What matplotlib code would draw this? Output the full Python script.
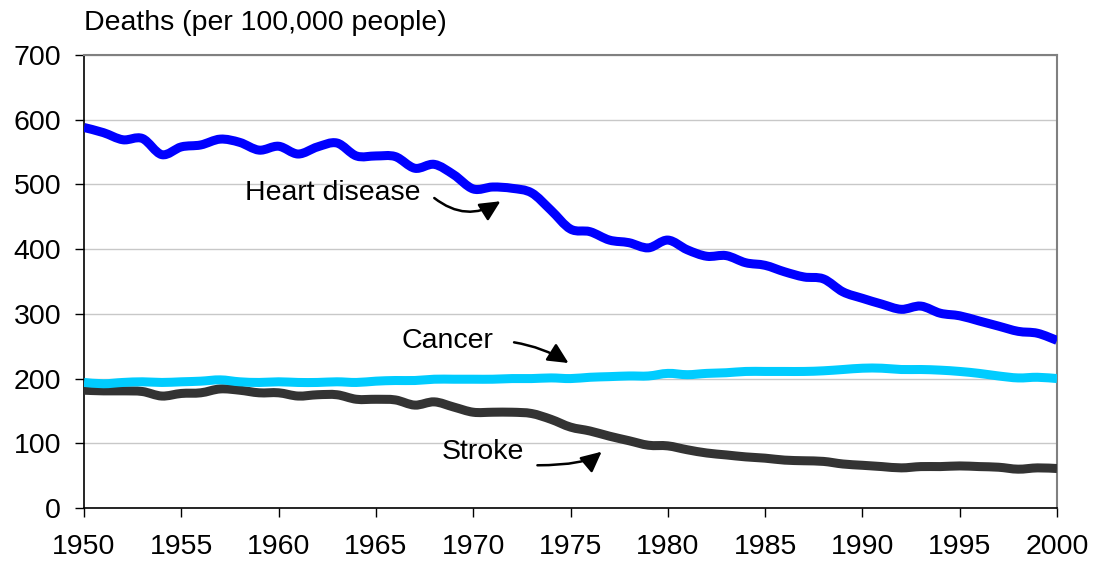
import matplotlib
matplotlib.use("Agg")
import matplotlib.pyplot as plt
from matplotlib.path import Path
from matplotlib.patches import PathPatch
import numpy as np

years = list(range(1950, 2001))
heart = [588, 580, 569, 571, 546, 558, 561, 570, 565, 553,
         559, 547, 558, 564, 544, 544, 543, 525, 531, 515,
         493, 496, 494, 487, 460, 431, 427, 414, 410, 402,
         414, 399, 389, 390, 379, 375, 365, 357, 354, 334,
         324, 315, 307, 312, 301, 297, 289, 281, 273, 270,
         259]
cancer = [194, 192, 194, 195, 194, 195, 196, 198, 195, 194,
          195, 194, 194, 195, 194, 196, 197, 197, 199, 199,
          199, 199, 200, 200, 201, 200, 202, 203, 204, 204,
          208, 206, 208, 209, 211, 211, 211, 211, 212, 214,
          216, 216, 214, 214, 213, 211, 208, 204, 201, 202,
          200]
stroke = [182, 181, 181, 180, 173, 177, 178, 184, 182, 178,
          178, 173, 175, 175, 168, 168, 167, 159, 164, 156,
          148, 148, 148, 146, 137, 125, 119, 111, 104, 97,
          96, 90, 85, 82, 79, 77, 74, 73, 72, 68,
          66, 64, 62, 64, 64, 65, 64, 63, 60, 62,
          61]
series_labels = ["Heart disease", "Cancer", "Stroke"]
y_label = "Deaths (per 100,000 people)"
x_ticks = list(range(1950, 2001, 5))
y_ticks = list(range(0, 701, 100))

plt.rcParams['font.family'] = ['Liberation Sans', 'DejaVu Sans']


def smooth_path(xs, ys):
    """Bezier path passing through every data point (Excel-style smoothed line)."""
    p = np.column_stack([xs, ys]).astype(float)
    n = len(p)
    verts = [p[0]]
    codes = [Path.MOVETO]
    for i in range(n - 1):
        p0 = p[i - 1] if i > 0 else p[i]
        p1 = p[i]
        p2 = p[i + 1]
        p3 = p[i + 2] if i + 2 < n else p[i + 1]
        c1 = p1 + (p2 - p0) / 6.0
        c2 = p2 - (p3 - p1) / 6.0
        verts += [c1, c2, p2]
        codes += [Path.CURVE4] * 3
    return Path(verts, codes)


fig = plt.figure(figsize=(10.96, 5.67), dpi=100)
ax = fig.add_axes([84/1096, 59/567, (1057-84)/1096, (508-55)/567])

ax.set_xlim(1950, 2000)
ax.set_ylim(0, 700)
ax.set_xticks(x_ticks)
ax.set_yticks(y_ticks)
ax.grid(axis='y', color='#c8c8c8', linewidth=1.0)
ax.set_axisbelow(True)

lw = 6.5
for vals, col, z in [(stroke, '#333333', 3), (cancer, '#00CCFF', 4), (heart, '#0000FF', 5)]:
    patch = PathPatch(smooth_path(years, vals), facecolor='none', edgecolor=col, lw=lw,
                      joinstyle='round', capstyle='butt', zorder=z, clip_on=True)
    ax.add_patch(patch)

for s in ['top', 'right']:
    ax.spines[s].set_color('#808080')
    ax.spines[s].set_linewidth(1.5)
for s in ['left', 'bottom']:
    ax.spines[s].set_color('black')
    ax.spines[s].set_linewidth(1.2)

ax.tick_params(axis='both', direction='out', length=6.5, width=1, labelsize=20.5, colors='black')
ax.tick_params(axis='x', pad=12)
ax.tick_params(axis='y', pad=10)

fig.text(84/1096, 1 - 23/567, y_label, ha='left', va='center', fontsize=20.5)

fs = 20.5
head = '-|>,head_length=0.62,head_width=0.3'
ax.text(1962.8, 487, series_labels[0], ha='center', va='center', fontsize=fs)
ax.annotate('', xy=(1971.4, 474), xytext=(1968.0, 479),
            arrowprops=dict(arrowstyle=head, mutation_scale=20, color='black', lw=1.8,
                            connectionstyle='arc3,rad=0.35', shrinkA=0, shrinkB=0))
ax.text(1968.7, 258, series_labels[1], ha='center', va='center', fontsize=fs)
ax.annotate('', xy=(1974.9, 224), xytext=(1972.1, 256),
            arrowprops=dict(arrowstyle=head, mutation_scale=20, color='black', lw=1.8,
                            connectionstyle='arc3,rad=-0.1', shrinkA=0, shrinkB=0))
ax.text(1970.5, 87, series_labels[2], ha='center', va='center', fontsize=fs)
ax.annotate('', xy=(1976.6, 87), xytext=(1973.3, 66),
            arrowprops=dict(arrowstyle=head, mutation_scale=20, color='black', lw=1.8,
                            connectionstyle='angle3,angleA=0,angleB=40', shrinkA=0, shrinkB=0))

fig.savefig('out.png', dpi=100)
